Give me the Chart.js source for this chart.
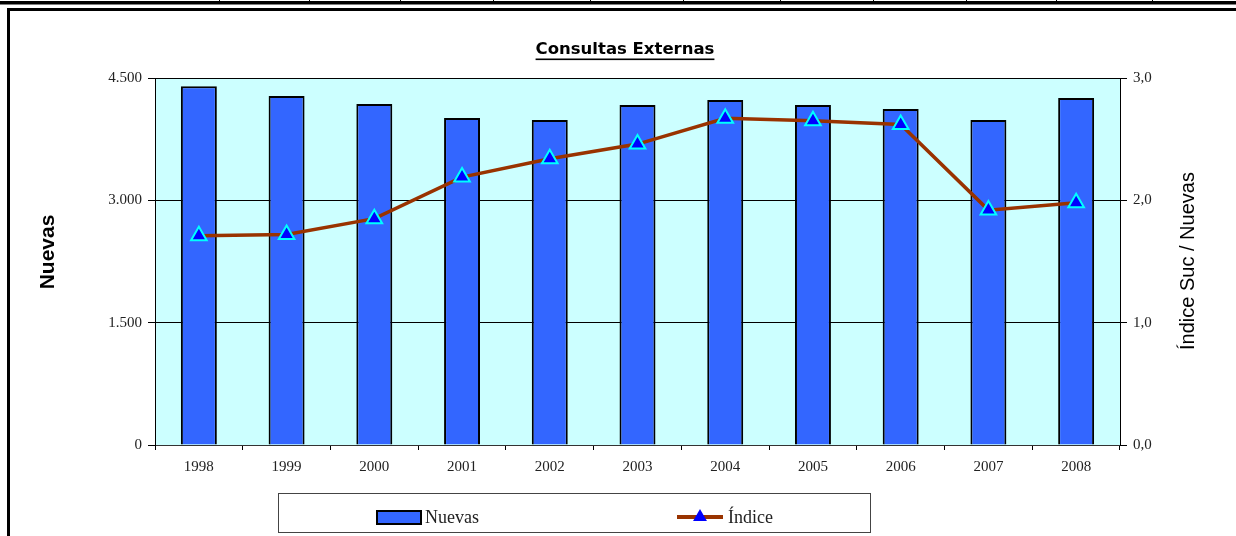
<!DOCTYPE html>
<html>
<head>
<meta charset="utf-8">
<script src="https://cdn.jsdelivr.net/npm/chart.js@4/dist/chart.umd.min.js"></script>
<style>
  html, body { margin: 0; padding: 0; background: #fff; }
  canvas { display: block; }
</style>
</head>
<body>
<canvas id="chart" width="1236" height="536"></canvas>
<script>
const years = ['1998', '1999', '2000', '2001', '2002', '2003', '2004', '2005', '2006', '2007', '2008'];
const nuevas = [4400, 4280, 4180, 4010, 3985, 4170, 4230, 4170, 4120, 3985, 4255];
const indice = [1.71, 1.72, 1.85, 2.19, 2.34, 2.46, 2.67, 2.65, 2.62, 1.92, 1.98];
const leftTicks = ['0', '1.500', '3.000', '4.500'];
const rightTicks = ['0,0', '1,0', '2,0', '3,0'];

const BAR = '#3366FF';
const LINE = '#993300';
const serif = '"Liberation Serif", "DejaVu Serif", serif';
const sans = '"Liberation Sans", Arial, sans-serif';

// page frame, plot background, titles and legend
const frame = {
    id: 'frame',
    beforeDraw(chart) {
        const ctx = chart.ctx;
        const a = chart.chartArea;
        ctx.save();
        ctx.fillStyle = '#fff';
        ctx.fillRect(0, 0, chart.width, chart.height);
        ctx.fillStyle = '#000';
        ctx.fillRect(0, 1, chart.width, 3.5);
        [219, 309, 400, 493, 590, 683, 780, 873, 966, 1056, 1152].forEach(x => ctx.fillRect(x, 0, 1, 2));
        ctx.fillRect(7, 8, chart.width - 7, 3);
        ctx.fillRect(7, 8, 3, chart.height - 8);
        ctx.fillStyle = '#CCFFFF';
        ctx.fillRect(a.left, a.top, a.right - a.left, a.bottom - a.top);
        ctx.restore();
    },
    afterDraw(chart) {
        const ctx = chart.ctx;
        ctx.save();
        // title
        ctx.font = 'bold 16.5px "DejaVu Sans", sans-serif';
        ctx.fillStyle = '#000';
        ctx.textAlign = 'center';
        ctx.textBaseline = 'middle';
        const title = 'Consultas Externas';
        const w = ctx.measureText(title).width;
        ctx.fillText(title, 625, 50);
        ctx.fillRect(625 - w / 2, 58.5, w, 1.6);

        // axis titles
        ctx.save();
        ctx.translate(48, 252);
        ctx.rotate(-Math.PI / 2);
        ctx.font = 'bold 21px ' + sans;
        ctx.fillText('Nuevas', 0, 0);
        ctx.restore();
        ctx.save();
        ctx.translate(1188, 261);
        ctx.rotate(-Math.PI / 2);
        ctx.font = '20px ' + sans;
        ctx.fillText('Índice Suc / Nuevas', 0, 0);
        ctx.restore();

        // legend
        ctx.strokeStyle = '#444';
        ctx.lineWidth = 1;
        ctx.strokeRect(278.5, 493.5, 592, 39);
        const ds = chart.data.datasets;
        const bar = ds.find(d => d.type === 'bar');
        const line = ds.find(d => d.type === 'line');
        ctx.fillStyle = bar.backgroundColor;
        ctx.fillRect(377, 511, 44, 13);
        ctx.strokeStyle = '#000';
        ctx.lineWidth = 2;
        ctx.strokeRect(377, 511, 44, 13);
        ctx.strokeStyle = line.borderColor;
        ctx.lineWidth = 4;
        ctx.beginPath();
        ctx.moveTo(677, 517);
        ctx.lineTo(723, 517);
        ctx.stroke();
        ctx.fillStyle = line.pointBackgroundColor;
        ctx.strokeStyle = line.pointBorderColor;
        ctx.lineWidth = line.pointBorderWidth;
        Chart.helpers.drawPoint(ctx, { pointStyle: 'triangle', radius: 8, rotation: 0 }, 700, 517);
        ctx.fillStyle = '#222';
        ctx.font = '18px ' + serif;
        ctx.textAlign = 'left';
        ctx.fillText(bar.label, 425, 518);
        ctx.fillText(line.label, 728, 518);
        ctx.restore();
    }
};

new Chart(document.getElementById('chart'), {
    data: {
        labels: years,
        datasets: [{
            type: 'line',
            label: 'Índice',
            data: indice,
            yAxisID: 'y1',
            order: 1,
            borderColor: LINE,
            borderWidth: 3.5,
            tension: 0,
            pointStyle: 'triangle',
            pointRadius: 9,
            pointBackgroundColor: '#0000FF',
            pointBorderColor: '#00FFFF',
            pointBorderWidth: 2
        }, {
            type: 'bar',
            label: 'Nuevas',
            data: nuevas,
            yAxisID: 'y',
            order: 2,
            backgroundColor: BAR,
            borderColor: '#000',
            borderWidth: 2,
            categoryPercentage: 1,
            barPercentage: 0.41
        }]
    },
    options: {
        responsive: false,
        animation: false,
        layout: { padding: { left: 30, right: 0, top: 78, bottom: 60 } },
        plugins: {
            legend: { display: false },
            title: { display: false },
            tooltip: { enabled: false }
        },
        scales: {
            x: {
                grid: { offset: true, drawOnChartArea: false, color: '#000', tickLength: 5 },
                border: { color: '#333', width: 1 },
                ticks: { color: '#222', font: { family: serif, size: 15 }, padding: 8 },
                afterFit(s) { s.height = 31; }
            },
            y: {
                position: 'left',
                min: 0, max: 4500,
                ticks: { stepSize: 1500, color: '#222', font: { family: serif, size: 15 }, padding: 6,
                    callback: (v, i) => leftTicks[i] },
                grid: { color: '#000', tickLength: 7 },
                border: { color: '#000', width: 1 },
                afterFit(s) { s.width = 125; }
            },
            y1: {
                position: 'right',
                min: 0, max: 3,
                ticks: { stepSize: 1, color: '#222', font: { family: serif, size: 15 }, padding: 6,
                    callback: (v, i) => rightTicks[i] },
                grid: { drawOnChartArea: false, color: '#000', tickLength: 7 },
                border: { color: '#000', width: 1 },
                afterFit(s) { s.width = 116; }
            }
        }
    },
    plugins: [frame]
});
</script>
</body>
</html>
